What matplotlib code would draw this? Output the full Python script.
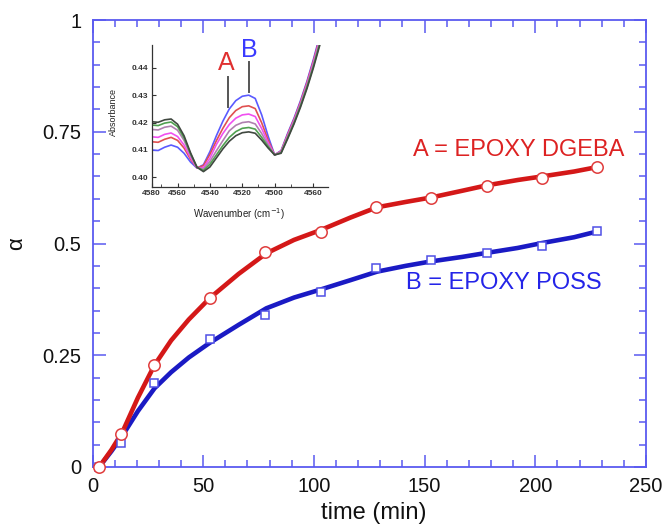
import matplotlib
matplotlib.use("Agg")
import matplotlib.pyplot as plt
from matplotlib.ticker import MultipleLocator, FixedLocator

plt.rcParams['font.family'] = ['Liberation Sans', 'DejaVu Sans']

# ---- main data ----
time_pts = [3, 13, 28, 53, 78, 103, 128, 153, 178, 203, 228]
alpha_dgeba = [0.0, 0.074, 0.228, 0.377, 0.480, 0.525, 0.582, 0.602, 0.629, 0.647, 0.672]
alpha_poss = [0.0, 0.054, 0.189, 0.286, 0.339, 0.391, 0.445, 0.463, 0.479, 0.495, 0.529]

fit_time = [3, 8.5, 13.5, 20.5, 28, 35.5, 43.5, 53, 66, 78.5, 91, 103, 116.5, 128.5, 141.5, 153, 167, 178,
            192, 203, 217.5, 228]
fit_dgeba = [0.0, 0.038, 0.078, 0.155, 0.228, 0.283, 0.330, 0.378, 0.432, 0.478, 0.508, 0.530, 0.558, 0.581,
             0.593, 0.603, 0.618, 0.630, 0.642, 0.650, 0.661, 0.671]
fit_poss = [0.0, 0.035, 0.070, 0.125, 0.176, 0.212, 0.245, 0.278, 0.318, 0.355, 0.379, 0.397, 0.418, 0.437,
            0.450, 0.460, 0.470, 0.479, 0.490, 0.501, 0.514, 0.527]

x_ticks = [0, 50, 100, 150, 200, 250]
y_ticks = [0, 0.25, 0.5, 0.75, 1]
y_ticklabels = ['0', '0.25', '0.5', '0.75', '1']

# ---- inset data ----
wavenumber = [4576, 4572, 4568, 4564, 4560, 4556, 4552, 4548, 4544, 4540, 4536, 4532, 4528, 4524,
              4520, 4516, 4512, 4508, 4504, 4500, 4496, 4492, 4488, 4484, 4480, 4476, 4472, 4468]
abs_blue = [.4100, .4098, .4110, .4118, .4110, .4088, .4056, .4034, .4046, .4094, .4152, .4205, .4250, .4280,
            .4296, .4300, .4288, .4228, .4150, .4082, .4098, .4160, .4216, .4280, .4351, .4431, .4519, .4615]
abs_red = [.4130, .4128, .4139, .4146, .4135, .4107, .4066, .4035, .4043, .4084, .4134, .4179, .4218, .4244,
           .4258, .4261, .4251, .4199, .4136, .4082, .4096, .4156, .4212, .4275, .4346, .4425, .4512, .4607]
abs_magenta = [.4148, .4146, .4157, .4162, .4149, .4118, .4072, .4035, .4036, .4070, .4120, .4160, .4193, .4216,
               .4228, .4231, .4222, .4178, .4127, .4082, .4094, .4152, .4208, .4270, .4340, .4419, .4505, .4600]
abs_plum = [.4175, .4173, .4183, .4187, .4172, .4135, .4081, .4036, .4030, .4058, .4097, .4134, .4170, .4190,
            .4200, .4203, .4195, .4160, .4118, .4082, .4092, .4148, .4203, .4266, .4335, .4412, .4498, .4592]
abs_green = [.4191, .4189, .4198, .4202, .4185, .4144, .4086, .4037, .4025, .4048, .4082, .4116, .4146, .4167,
             .4179, .4182, .4176, .4146, .4112, .4082, .4090, .4144, .4199, .4261, .4329, .4406, .4491, .4585]
abs_dark = [.4203, .4201, .4210, .4213, .4194, .4152, .4090, .4037, .4021, .4038, .4071, .4104, .4132, .4152,
            .4163, .4166, .4161, .4136, .4107, .4082, .4088, .4140, .4195, .4256, .4324, .4400, .4484, .4577]

inset_xticks = [4576, 4560, 4540, 4520, 4500, 4476]
inset_xticklabels = ['4580', '4560', '4540', '4520', '4500', '4560']
inset_yticks = [0.40, 0.41, 0.42, 0.43, 0.44]
inset_yticklabels = ['0.40', '0.41', '0.42', '0.43', '0.44']

W, H = 663, 530
fig = plt.figure(figsize=(W / 100, H / 100), dpi=100)

axcol = '#5a5af0'
ax = fig.add_axes([92.5 / W, 1 - 467 / H, 553.5 / W, 447 / H])
ax.plot(fit_time, fit_poss, color='#1a1ac4', lw=3.3, solid_capstyle='round', zorder=3)
ax.plot(fit_time, fit_dgeba, color='#d41818', lw=3.3, solid_capstyle='round', zorder=3)
ax.plot(time_pts, alpha_poss, ls='none', marker='s', ms=6.2, mfc='white', mec='#5050e6', mew=1.1,
        zorder=4, clip_on=False)
ax.plot(time_pts, alpha_dgeba, ls='none', marker='o', ms=8.2, mfc='white', mec='#e03c3c', mew=1.1,
        zorder=5, clip_on=False)

ax.set_xlim(0, 250)
ax.set_ylim(0, 1)
ax.xaxis.set_major_locator(FixedLocator(x_ticks))
ax.xaxis.set_minor_locator(MultipleLocator(10))
ax.yaxis.set_major_locator(FixedLocator(y_ticks))
ax.set_yticklabels(y_ticklabels)
ax.yaxis.set_minor_locator(MultipleLocator(0.05))
for s in ax.spines.values():
    s.set_color(axcol)
    s.set_linewidth(1.3)
ax.tick_params(which='both', direction='in', top=True, right=True, color=axcol, width=1.1,
               labelsize=14.5, labelcolor='#111111')
ax.tick_params(which='major', length=9)
ax.tick_params(which='minor', length=5)
ax.tick_params(axis='x', pad=7)
ax.tick_params(axis='y', pad=8)
ax.set_xlabel('time (min)', fontsize=17, color='#111111')
ax.xaxis.set_label_coords(0.508, -0.078)
ax.set_ylabel('α', fontsize=16, color='#111111', rotation=90)
ax.yaxis.set_label_coords(-0.118, 0.5)

ax.text(413 / W, 1 - 150 / H, 'A = EPOXY DGEBA', transform=fig.transFigure, color='#dd2222',
        fontsize=17, ha='left', va='center')
ax.text(406 / W, 1 - 283 / H, 'B = EPOXY POSS', transform=fig.transFigure, color='#2424e8',
        fontsize=17, ha='left', va='center')

# ---- inset ----
ins = fig.add_axes([151.7 / W, 1 - 186.7 / H, 176.3 / W, 141.7 / H])
ins.set_facecolor('white')
for vals, c in [(abs_blue, '#5a5aff'), (abs_red, '#e05050'), (abs_magenta, '#f050f0'),
                (abs_plum, '#b080b0'), (abs_green, '#50a050'), (abs_dark, '#404840')]:
    ins.plot(wavenumber, vals, color=c, lw=1.2)
ins.set_xlim(4576, 4467)
ins.set_ylim(0.3966, 0.4483)
ins.xaxis.set_major_locator(FixedLocator(inset_xticks))
ins.set_xticklabels(inset_xticklabels)
ins.xaxis.set_minor_locator(FixedLocator([4570, 4550, 4530, 4510, 4490]))
ins.yaxis.set_major_locator(FixedLocator(inset_yticks))
ins.set_yticklabels(inset_yticklabels)
ins.spines['top'].set_visible(False)
ins.spines['right'].set_visible(False)
for s in ['left', 'bottom']:
    ins.spines[s].set_color('#333333')
    ins.spines[s].set_linewidth(0.9)
ins.tick_params(which='both', direction='in', color='#333333', labelsize=6, pad=2.5,
                labelcolor='#333333')
for lab in ins.get_xticklabels() + ins.get_yticklabels():
    lab.set_fontweight('bold')
ins.tick_params(which='major', length=3)
ins.tick_params(which='minor', length=2)
ins.set_ylabel('Absorbance', fontsize=6.5, color='#222222')
ins.yaxis.set_label_coords(-0.19, 0.53)
ins.set_xlabel('Wavenumber (cm$^{-1}$)', fontsize=7, color='#222222')
ins.xaxis.set_label_coords(0.495, -0.136)

ins.plot([4528.9, 4528.9], [0.4258, 0.4367], color='#555555', lw=1.4)
ins.plot([4515.9, 4515.9], [0.4312, 0.4422], color='#555555', lw=1.4)
ins.text(4529.8, 0.4416, 'A', color='#e03030', fontsize=18, ha='center', va='center')
ins.text(4515.7, 0.4465, 'B', color='#3a3aff', fontsize=18, ha='center', va='center', clip_on=False)

fig.savefig('out.png', dpi=100)
